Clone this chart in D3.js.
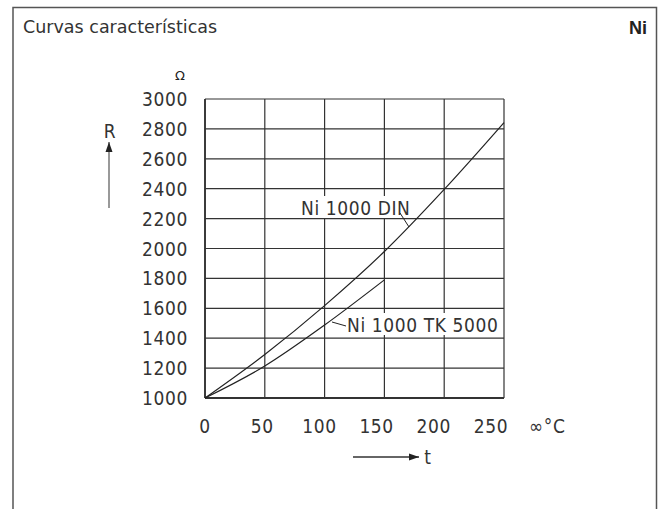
<!DOCTYPE html>
<html>
<head>
<meta charset="utf-8">
<script src="https://cdn.jsdelivr.net/npm/d3@7"></script>
<style>
  body { margin: 0; background: #fff; }
  text { font-family: "DejaVu Sans", sans-serif; fill: #222; }
</style>
</head>
<body>
<script>
const w = 659;
const h = 509;

// temperatures in degC and resistance in ohm
const tempTicks = [0, 50, 100, 150, 200, 250];
const ohmTicks = [1000, 1200, 1400, 1600, 1800, 2000, 2200, 2400, 2600, 2800, 3000];

const dinTemp = [0, 50, 100, 150, 200, 250];
const dinOhm = [1000, 1291, 1618, 1980, 2395, 2842];

const tkTemp = [0, 50, 100, 150];
const tkOhm = [1000, 1214, 1488, 1790];

const svg = d3.select("body")
    .append("svg")
    .attr("width", w)
    .attr("height", h);

const x = d3.scaleLinear().domain([0, 250]).range([205, 504]);
const y = d3.scaleLinear().domain([1000, 3000]).range([398, 99]);
// the printed tick numbers sit slightly tighter than the grid
const xLabel = d3.scaleLinear().domain([0, 250]).range([205, 491]);

// frame
svg.append("path")
    .attr("d", "M13,509 V7.5 H656.5 V509")
    .attr("fill", "none")
    .attr("stroke", "#555")
    .attr("stroke-width", 1.5);

svg.append("text")
    .attr("x", 23)
    .attr("y", 33)
    .style("font-size", "17.5px")
    .style("fill", "#333")
    .text("Curvas características");

svg.append("text")
    .attr("x", 647)
    .attr("y", 34)
    .attr("text-anchor", "end")
    .style("font-family", "'Liberation Sans', Arial, sans-serif")
    .style("font-weight", "bold")
    .style("font-size", "18px")
    .text("Ni");

svg.append("text")
    .attr("x", 180)
    .attr("y", 80)
    .attr("text-anchor", "middle")
    .style("font-size", "13px")
    .text("Ω");

// grid
const grid = svg.append("g").attr("stroke", "#333").attr("stroke-width", 1.2);
grid.selectAll(".v")
    .data(tempTicks)
    .enter()
    .append("line")
    .attr("x1", d => x(d)).attr("x2", d => x(d))
    .attr("y1", y(1000)).attr("y2", y(3000));
grid.selectAll(".h")
    .data(ohmTicks)
    .enter()
    .append("line")
    .attr("y1", d => y(d)).attr("y2", d => y(d))
    .attr("x1", x(0)).attr("x2", x(250));
grid.append("line")
    .attr("x1", x(0)).attr("x2", x(0))
    .attr("y1", y(1000)).attr("y2", y(3000))
    .attr("stroke-width", 1.8);
grid.append("line")
    .attr("x1", x(0)).attr("x2", x(250))
    .attr("y1", y(1000)).attr("y2", y(1000))
    .attr("stroke-width", 1.8);

// tick labels
const labelStyle = sel => sel
    .style("font-size", "19px")
    .style("font-stretch", "condensed")
    .style("fill", "#333")
    .style("letter-spacing", "0.6px");

svg.selectAll(".ylab")
    .data(ohmTicks)
    .enter()
    .append("text")
    .attr("x", 188)
    .attr("y", d => y(d) + 7)
    .attr("text-anchor", "end")
    .call(labelStyle)
    .text(d => d);

svg.selectAll(".xlab")
    .data(tempTicks)
    .enter()
    .append("text")
    .attr("x", d => xLabel(d))
    .attr("y", 433)
    .attr("text-anchor", "middle")
    .call(labelStyle)
    .text(d => d);

svg.append("text")
    .attr("x", 529)
    .attr("y", 433)
    .call(labelStyle)
    .text("∞°C");

// axis names with arrows
svg.append("defs").append("marker")
    .attr("id", "arrow")
    .attr("viewBox", "0 0 10 10")
    .attr("refX", 10).attr("refY", 5)
    .attr("markerWidth", 10).attr("markerHeight", 10)
    .attr("markerUnits", "userSpaceOnUse")
    .attr("orient", "auto")
    .append("path")
    .attr("d", "M0,1.5 L10,5 L0,8.5 Z")
    .attr("fill", "#222");

svg.append("line")
    .attr("x1", 109).attr("x2", 109)
    .attr("y1", 208).attr("y2", 142)
    .attr("stroke", "#777").attr("stroke-width", 1.5)
    .attr("marker-end", "url(#arrow)");
svg.append("text")
    .attr("x", 110).attr("y", 138)
    .attr("text-anchor", "middle")
    .call(labelStyle)
    .text("R");

svg.append("line")
    .attr("x1", 353).attr("x2", 419)
    .attr("y1", 457).attr("y2", 457)
    .attr("stroke", "#333").attr("stroke-width", 1.3)
    .attr("marker-end", "url(#arrow)");
svg.append("text")
    .attr("x", 428).attr("y", 464)
    .attr("text-anchor", "middle")
    .call(labelStyle)
    .text("t");

// curves
const line = d3.line()
    .x(d => x(d[0]))
    .y(d => y(d[1]))
    .curve(d3.curveMonotoneX);

svg.append("path")
    .datum(d3.zip(dinTemp, dinOhm))
    .attr("d", line)
    .attr("fill", "none")
    .attr("stroke", "#222")
    .attr("stroke-width", 1.2);

svg.append("path")
    .datum(d3.zip(tkTemp, tkOhm))
    .attr("d", line)
    .attr("fill", "none")
    .attr("stroke", "#222")
    .attr("stroke-width", 1.2);

// curve labels
const lab = svg.append("g");
lab.append("rect")
    .attr("x", 299).attr("y", 196).attr("width", 108).attr("height", 22)
    .attr("fill", "#fff");
lab.append("text")
    .attr("x", 301).attr("y", 215)
    .call(labelStyle)
    .text("Ni 1000 DIN");
lab.append("line")
    .attr("x1", 400).attr("y1", 213)
    .attr("x2", 409).attr("y2", 227)
    .attr("stroke", "#222").attr("stroke-width", 1);

lab.append("rect")
    .attr("x", 346).attr("y", 313).attr("width", 156).attr("height", 22)
    .attr("fill", "#fff");
lab.append("text")
    .attr("x", 347).attr("y", 332)
    .call(labelStyle)
    .text("Ni 1000 TK 5000");
lab.append("line")
    .attr("x1", 332).attr("y1", 322)
    .attr("x2", 346).attr("y2", 326)
    .attr("stroke", "#222").attr("stroke-width", 1);
</script>
</body>
</html>
